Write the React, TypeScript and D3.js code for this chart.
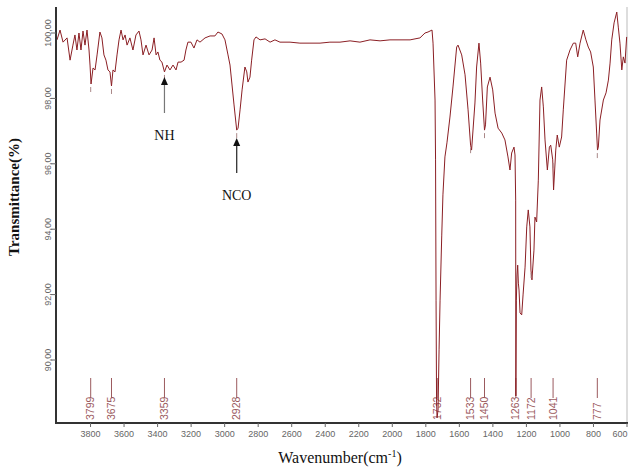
import React from 'react';
import * as d3 from 'd3';

// spectrum: wavenumber (cm-1) and transmittance (%)
const wavenumber = [
  4000, 3982, 3964, 3940, 3922, 3905, 3893, 3881, 3869, 3857, 3845, 3833, 3821, 3809, 3803, 3797,
  3785, 3773, 3761, 3744, 3732, 3720, 3708, 3696, 3684, 3675, 3666, 3654, 3642, 3630, 3618, 3606,
  3594, 3582, 3565, 3547, 3529, 3511, 3499, 3487, 3469, 3451, 3433, 3421, 3409, 3398, 3386, 3374,
  3359, 3344, 3326, 3308, 3290, 3278, 3260, 3242, 3231, 3219, 3201, 3183, 3165, 3147, 3117, 3087,
  3058, 3040, 3016, 2998, 2980, 2968, 2956, 2944, 2928, 2920, 2908, 2896, 2879, 2868, 2861, 2849,
  2839, 2825, 2813, 2789, 2759, 2729, 2700, 2670, 2610, 2551, 2491, 2431, 2372, 2312, 2252, 2193,
  2133, 2073, 2014, 1954, 1894, 1835, 1805, 1787, 1763, 1757, 1745, 1742, 1739, 1736, 1733, 1727,
  1721, 1715, 1705, 1698, 1686, 1674, 1656, 1638, 1616, 1608, 1586, 1566, 1548, 1533, 1527, 1507,
  1497, 1483, 1473, 1461, 1450, 1444, 1433, 1417, 1401, 1387, 1369, 1347, 1328, 1310, 1298, 1288,
  1274, 1268, 1264, 1263, 1260, 1256, 1252, 1248, 1244, 1238, 1228, 1220, 1208, 1198, 1189, 1179,
  1173, 1167, 1155, 1149, 1139, 1129, 1119, 1109, 1099, 1089, 1075, 1063, 1055, 1043, 1038, 1025,
  1016, 1004, 990, 980, 960, 940, 920, 906, 894, 880, 861, 845, 831, 817, 801, 791,
  781, 776, 771, 761, 741, 725, 711, 701, 691, 677, 661, 652, 642, 631, 622, 612, 602,
];
const transmittance = [
  99.79, 100.09, 99.72, 99.85, 99.17, 99.63, 99.94, 99.48, 100.0, 99.48, 100.06, 99.63, 100.09, 99.48, 99.02, 98.44,
  98.93, 98.87, 99.33, 100.03, 99.85, 99.33, 99.17, 98.87, 98.81, 98.38, 98.87, 98.81, 99.33, 99.79, 100.09, 99.79,
  99.94, 99.63, 99.85, 99.48, 99.94, 100.06, 99.79, 99.33, 99.63, 99.33, 99.48, 99.85, 99.33, 99.42, 99.17, 99.11,
  98.81, 99.02, 98.87, 99.02, 98.87, 99.11, 99.11, 99.17, 99.48, 99.72, 99.72, 99.54, 99.79, 99.72, 99.85, 99.91,
  99.91, 100.03, 99.97, 99.79, 99.33, 99.02, 98.41, 97.8, 97.03, 97.09, 97.65, 98.26, 98.96, 98.81, 98.5, 98.65,
  99.17, 99.79, 99.88, 99.79, 99.82, 99.72, 99.79, 99.72, 99.72, 99.69, 99.69, 99.69, 99.72, 99.72, 99.76, 99.72,
  99.79, 99.76, 99.79, 99.79, 99.79, 99.85, 100.0, 100.03, 100.09, 99.69, 97.95, 96.12, 91.83, 88.78, 88.23, 88.47,
  90.31, 91.83, 93.82, 95.05, 96.21, 96.64, 97.43, 98.35, 99.57, 99.63, 99.33, 98.72, 97.65, 96.57, 96.42, 97.86,
  98.96, 99.69, 99.08, 97.95, 97.03, 97.19, 98.35, 98.65, 98.26, 97.55, 97.09, 96.94, 96.73, 96.21, 95.81, 96.33,
  96.51, 96.27, 94.89, 88.9, 91.83, 92.6, 92.9, 92.35, 92.14, 91.44, 91.38, 91.99, 92.84, 94.07, 94.59, 94.07,
  92.75, 92.45, 93.36, 94.37, 94.22, 95.5, 97.95, 98.35, 97.74, 96.73, 95.81, 96.51, 96.57, 96.12, 95.2, 96.42,
  96.88, 96.51, 96.82, 97.65, 99.17, 99.48, 99.69, 99.69, 99.27, 99.69, 100.09, 99.79, 99.57, 99.42, 98.96, 97.95,
  96.94, 96.42, 96.51, 97.34, 97.95, 98.17, 98.56, 99.08, 99.79, 100.31, 100.64, 100.18, 99.69, 98.87, 99.27, 99.08, 99.88,
];

const peaks = [3799, 3675, 3359, 2928, 1732, 1533, 1450, 1263, 1172, 1041, 777];
const xTicks = [3800, 3600, 3400, 3200, 3000, 2800, 2600, 2400, 2200, 2000, 1800, 1600, 1400, 1200, 1000, 800, 600];
const yTicks = [90, 92, 94, 96, 98, 100];

const W = 628;
const H = 469;
const lineColor = '#8b1f24';
const peakColor = '#9b5a5e';

export default function App() {
  const x = d3.scaleLinear().domain([4000, 600]).range([57, 627]);
  const y = d3.scaleLinear().domain([90, 100]).range([360, 33]);
  const pts = wavenumber.map((w, i) => [w, transmittance[i]] as [number, number]);
  const line = d3.line<[number, number]>().x(d => x(d[0])).y(d => y(d[1]));
  const fmt = (v: number) => d3.format('.2f')(v).replace('.', ',');
  const axisBottom = 423;
  // nearest data point for the little peak-pick dashes
  const minAt = (w: number) => {
    let best = pts[0];
    pts.forEach(p => { if (Math.abs(p[0] - w) < Math.abs(best[0] - w)) best = p; });
    return best[1];
  };

  return (
    <svg width={W} height={H} style={{ position: 'absolute', left: 0, top: 0, background: '#fff' }}
      fontFamily="Liberation Sans, Arial, sans-serif">
      {/* right border */}
      <line x1={627} x2={627} y1={7} y2={axisBottom} stroke="#bbb" strokeWidth={1} />

      {/* peak labels */}
      {peaks.map(p => (
        <g key={p}>
          <line x1={x(p)} x2={x(p)} y1={378} y2={398} stroke={peakColor} strokeWidth={1} />
          <text transform={`translate(${x(p) + 3.5},${420}) rotate(-90)`} fontSize={10.5} fill={peakColor}>{p}</text>
        </g>
      ))}

      {/* spectrum */}
      <path d={line(pts) || ''} fill="none" stroke={lineColor} strokeWidth={1} strokeLinejoin="round" />

      {/* peak-pick dashes under minima */}
      {peaks.filter(p => p !== 1732 && p !== 1263).map(p => {
        const yy = y(minAt(p));
        return <line key={'d' + p} x1={x(p)} x2={x(p)} y1={yy + 3} y2={yy + 8} stroke="#a88" strokeWidth={1} />;
      })}

      {/* axes */}
      <line x1={56} x2={56} y1={7} y2={axisBottom + 1} stroke="#333" strokeWidth={2} />
      <line x1={55} x2={628} y1={axisBottom} y2={axisBottom} stroke="#333" strokeWidth={2} />
      {yTicks.map(t => (
        <g key={t}>
          <line x1={51} x2={56} y1={y(t)} y2={y(t)} stroke="#666" strokeWidth={1} />
          <text transform={`translate(${51},${y(t)}) rotate(-90)`} textAnchor="middle" fontSize={9} fill="#666">{fmt(t)}</text>
        </g>
      ))}
      {xTicks.map(t => (
        <g key={t}>
          <line x1={x(t)} x2={x(t)} y1={axisBottom} y2={axisBottom + 4} stroke="#666" strokeWidth={1} />
          <text x={Math.min(x(t), 620)} y={437} textAnchor="middle" fontSize={9} fill="#666">{t}</text>
        </g>
      ))}

      {/* axis titles */}
      <text transform="translate(19,197) rotate(-90)" textAnchor="middle" fontSize={15} fontWeight="bold"
        fontFamily="Liberation Serif, Times New Roman, serif" fill="#111">Transmittance(%)</text>
      <text x={340} y={463} textAnchor="middle" fontSize={16} fontFamily="Liberation Serif, Times New Roman, serif" fill="#111">
        Wavenumber(cm<tspan dy={-6} fontSize={10}>-1</tspan><tspan dy={6}>)</tspan>
      </text>

      {/* annotations */}
      <line x1={x(3359)} x2={x(3359)} y1={113} y2={84} stroke="#777" strokeWidth={1.2} />
      <path d={`M${x(3359)},77 L${x(3359) - 3.5},85 L${x(3359) + 3.5},85 Z`} fill="#111" />
      <text x={x(3359)} y={140} textAnchor="middle" fontSize={14} fontFamily="Liberation Serif, Times New Roman, serif" fill="#111">NH</text>
      <line x1={x(2928)} x2={x(2928)} y1={173} y2={145} stroke="#222" strokeWidth={1.2} />
      <path d={`M${x(2928)},138 L${x(2928) - 3.5},146 L${x(2928) + 3.5},146 Z`} fill="#111" />
      <text x={x(2928)} y={200} textAnchor="middle" fontSize={14} fontFamily="Liberation Serif, Times New Roman, serif" fill="#111">NCO</text>
    </svg>
  );
}
